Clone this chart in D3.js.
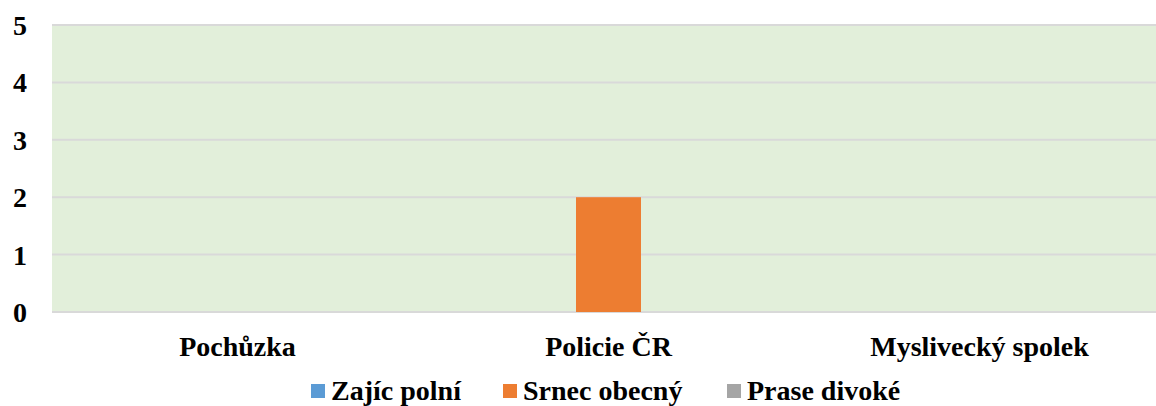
<!DOCTYPE html>
<html>
<head>
<meta charset="utf-8">
<script src="https://cdn.jsdelivr.net/npm/d3@7"></script>
<style>
  html, body { margin: 0; padding: 0; background: #fff; }
  svg { display: block; }
  text { font-family: "Liberation Serif", "Times New Roman", serif; font-weight: bold; fill: #000; }
</style>
</head>
<body>
<svg id="chart" width="1156" height="406"></svg>
<script>
const categories = ["Pochůzka", "Policie ČR", "Myslivecký spolek"];
const seriesNames = ["Zajíc polní", "Srnec obecný", "Prase divoké"];
const zajic = [0, 0, 0];
const srnec = [0, 2, 0];
const prase = [0, 0, 0];
const yTicks = [0, 1, 2, 3, 4, 5];
const colors = ["#5B9BD5", "#ED7D31", "#A5A5A5"];

const seriesValues = [zajic, srnec, prase];

const svg = d3.select("#chart");
const plotLeft = 52, plotRight = 1165, plotTop = 25, plotBottom = 312;

const x0 = d3.scaleBand().domain(categories).range([plotLeft, plotRight]).padding(0);
const bw = x0.bandwidth();
const groupW = 195;
const x1 = d3.scaleBand().domain(seriesNames).range([(bw - groupW) / 2, (bw + groupW) / 2]).padding(0);
const y = d3.scaleLinear().domain([0, 5]).range([plotBottom, plotTop]);

// plot background
svg.append("rect").attr("x", plotLeft).attr("y", plotTop)
  .attr("width", plotRight - plotLeft).attr("height", plotBottom - plotTop)
  .attr("fill", "#E2EFDA");

// gridlines
svg.append("g").selectAll("line").data(yTicks).join("line")
  .attr("x1", plotLeft).attr("x2", plotRight)
  .attr("y1", d => y(d)).attr("y2", d => y(d))
  .attr("stroke", "#D9D9D9").attr("stroke-width", 2);

// y axis labels
const yAxis = d3.axisLeft(y).tickValues(yTicks).tickFormat(d3.format("d")).tickSize(0).tickPadding(0);
const yg = svg.append("g").attr("transform", `translate(27,0)`).call(yAxis);
yg.select(".domain").remove();
yg.selectAll("text").attr("font-size", 28).attr("dy", "0.34em")
  .style("font-family", '"Liberation Serif", serif').style("font-weight", "bold");

// bars
const data = [];
categories.forEach((c, i) => seriesNames.forEach((s, j) => data.push({ c, s, v: seriesValues[j][i], color: colors[j] })));
svg.append("g").selectAll("rect").data(data.filter(d => d.v > 0)).join("rect")
  .attr("x", d => x0(d.c) + x1(d.s))
  .attr("width", x1.bandwidth())
  .attr("y", d => y(d.v))
  .attr("height", d => y(0) - y(d.v))
  .attr("fill", d => d.color);

// x axis labels
const xAxis = d3.axisBottom(x0).tickSize(0).tickPadding(0);
const xg = svg.append("g").attr("transform", `translate(0,${plotBottom})`).call(xAxis);
xg.select(".domain").remove();
xg.selectAll("text").attr("font-size", 28).attr("y", 43.5).attr("dy", 0)
  .style("font-family", '"Liberation Serif", serif').style("font-weight", "bold");

// legend
const legendX = [311, 503, 727];
const lg = svg.append("g").selectAll("g").data(seriesNames).join("g")
  .attr("transform", (d, i) => `translate(${legendX[i]},0)`);
lg.append("rect").attr("x", 0).attr("y", 384).attr("width", 14).attr("height", 14)
  .attr("fill", (d, i) => colors[i]);
lg.append("text").attr("x", 20).attr("y", 400).attr("font-size", 28).text(d => d);
</script>
</body>
</html>
